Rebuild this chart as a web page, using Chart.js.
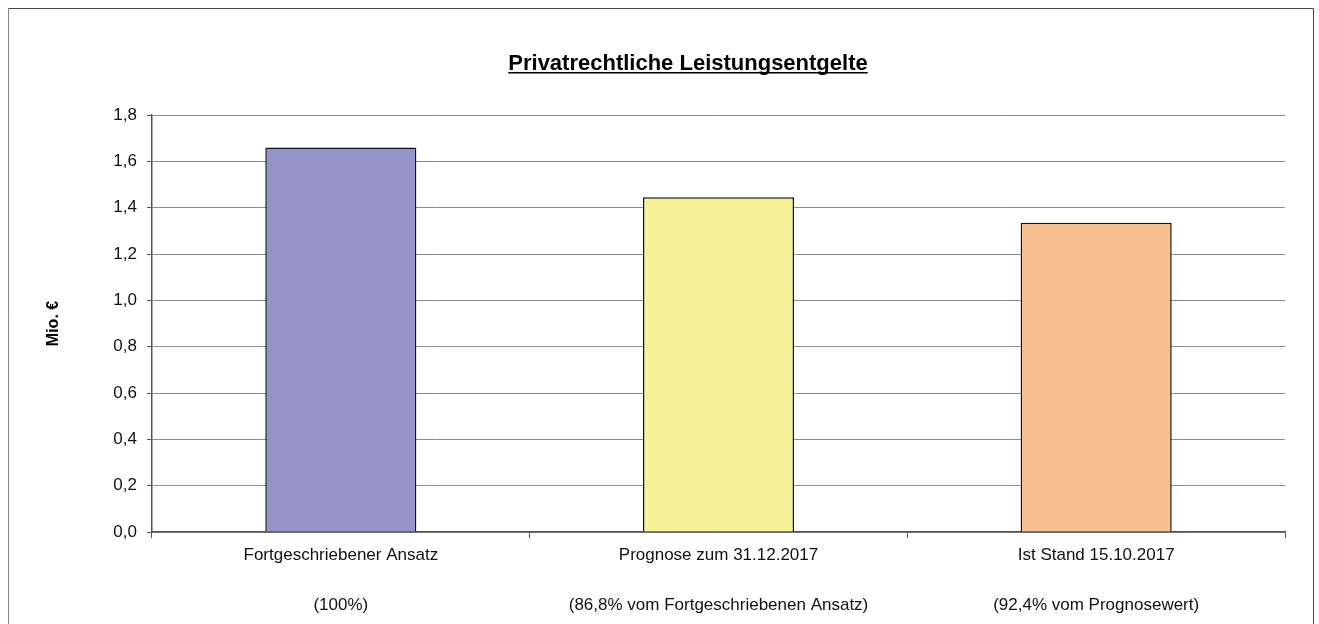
<!DOCTYPE html>
<html>
<head>
<meta charset="utf-8">
<script src="https://cdn.jsdelivr.net/npm/chart.js@4"></script>
<style>
  body { margin: 0; background: #fff; }
</style>
</head>
<body>
<canvas id="tablapro" width="1319" height="624"></canvas>
<script>
// Werte (Mio. €)
const titel = 'Privatrechtliche Leistungsentgelte';
const kategorien = [
    ['Fortgeschriebener Ansatz', '', '(100%)'],
    ['Prognose zum 31.12.2017', '', '(86,8% vom Fortgeschriebenen Ansatz)'],
    ['Ist Stand 15.10.2017', '', '(92,4% vom Prognosewert)']
];
const werte = [1.66, 1.445, 1.335];
const farben = ['#9494c8', '#f6f196', '#f8c090'];
const yMin = 0;
const yMax = 1.8;
const yStep = 0.2;

const schrift = "'Liberation Sans', Arial, sans-serif";

// Rahmen + unterstrichener Titel
const rahmenPlugin = {
    id: 'rahmen',
    beforeDraw(chart) {
        const ctx = chart.ctx;
        ctx.save();
        ctx.lineWidth = 1;
        ctx.strokeStyle = '#888';
        ctx.beginPath();
        ctx.moveTo(8.5, 630);
        ctx.lineTo(8.5, 8.5);
        ctx.stroke();
        ctx.strokeStyle = '#444';
        ctx.beginPath();
        ctx.moveTo(8.5, 8.5);
        ctx.lineTo(1313.5, 8.5);
        ctx.lineTo(1313.5, 630);
        ctx.stroke();
        ctx.restore();
    },
    afterDraw(chart) {
        const ctx = chart.ctx;
        ctx.save();
        ctx.font = 'bold 22px ' + schrift;
        ctx.fillStyle = '#000';
        ctx.textAlign = 'center';
        ctx.textBaseline = 'alphabetic';
        const x = 688;
        const y = 70;
        ctx.fillText(titel, x, y);
        const w = ctx.measureText(titel).width;
        ctx.fillRect(x - w / 2, y + 2, w, 1.5);
        ctx.restore();
    }
};

const data = {
    labels: kategorien,
    datasets: [{
        data: werte,
        backgroundColor: farben,
        borderColor: '#111',
        borderWidth: 1.5,
        categoryPercentage: 1,
        barPercentage: 0.4
    }]
};

const config = {
    type: 'bar',
    data: data,
    options: {
        responsive: false,
        animation: false,
        layout: {
            padding: { top: 115, right: 34, left: 0, bottom: 0 }
        },
        plugins: {
            legend: { display: false },
            title: { display: false },
            tooltip: { enabled: false }
        },
        scales: {
            x: {
                afterFit: (s) => { s.height = 92; },
                grid: {
                    offset: true,
                    drawOnChartArea: true,
                    color: (c) => (c.index === 3 ? '#8c8c8c' : 'rgba(0,0,0,0)'),
                    tickColor: '#555',
                    tickLength: 6
                },
                border: { color: '#555', width: 1.5 },
                ticks: {
                    color: '#111',
                    padding: 5,
                    maxRotation: 0,
                    autoSkip: false,
                    font: { family: schrift, size: 17, lineHeight: 1.47 }
                }
            },
            y: {
                min: yMin,
                max: yMax,
                afterFit: (s) => { s.width = 152; },
                grid: {
                    color: '#8c8c8c',
                    tickColor: '#555',
                    tickLength: 5
                },
                border: { color: '#555', width: 1.5 },
                ticks: {
                    stepSize: yStep,
                    color: '#111',
                    padding: 10,
                    font: { family: schrift, size: 17 },
                    callback: (v) => v.toFixed(1).replace('.', ',')
                },
                title: {
                    display: true,
                    text: 'Mio. €',
                    color: '#000',
                    padding: { top: 44, bottom: 0 },
                    font: { family: schrift, size: 16, weight: 'bold' }
                }
            }
        }
    },
    plugins: [rahmenPlugin]
};

const myChart = new Chart(document.getElementById('tablapro'), config);
</script>
</body>
</html>
